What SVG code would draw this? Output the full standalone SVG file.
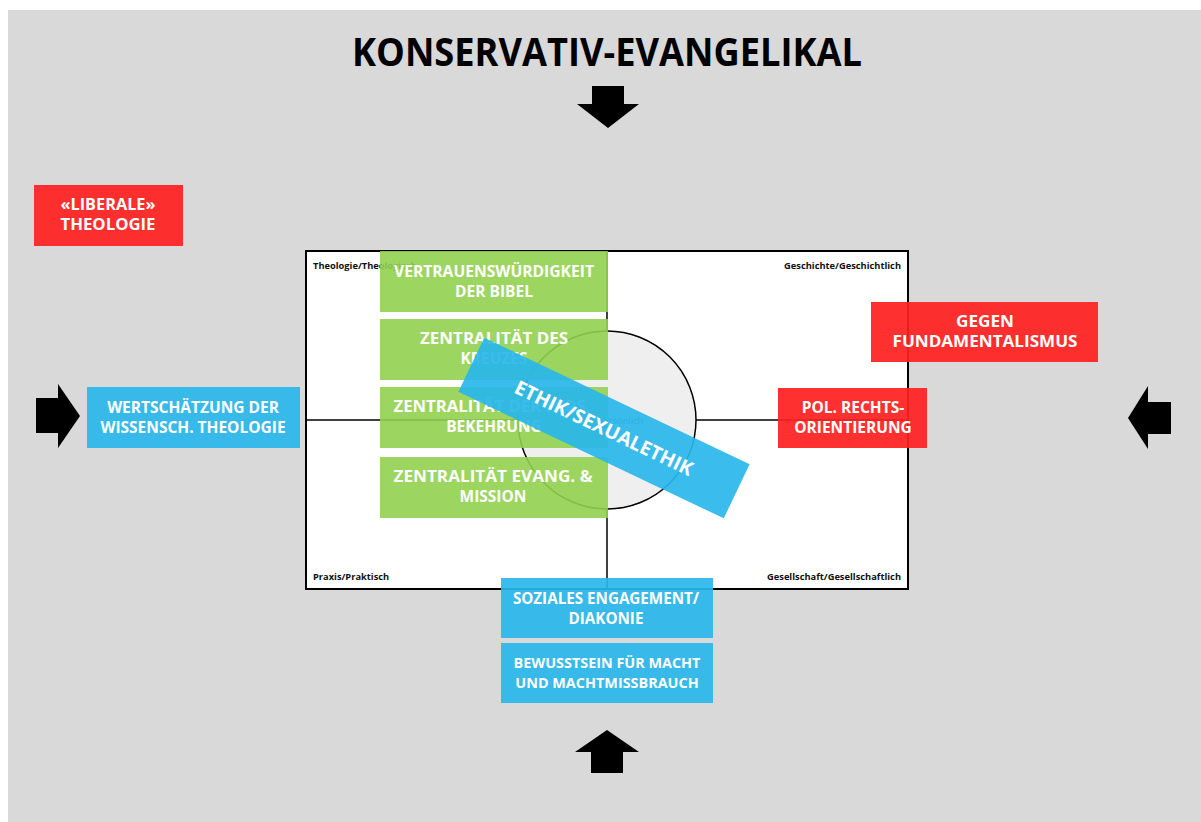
<svg xmlns="http://www.w3.org/2000/svg" width="1201" height="822" viewBox="0 0 1201 822">
  <style>
    .lbl { font-family: "Open Sans", "Liberation Sans", sans-serif; font-weight: 700; font-size: 15.5px; fill: #ffffff; text-anchor: middle; }
    .q { font-family: "Open Sans", "Liberation Sans", sans-serif; font-weight: 700; font-size: 9.3px; fill: #111111; }
    .green { fill: #92d050; opacity: 0.9; }
    .blue { fill: #29b6ea; opacity: 0.92; }
    .red { fill: #ff2020; opacity: 0.93; }
    .arrow { fill: #000000; }
  </style>
  <rect x="0" y="0" width="1201" height="822" fill="#ffffff"/>
  <rect x="8" y="10" width="1193" height="812" fill="#d9d9d9"/>

  <text x="607" y="66" font-family="Open Sans, Liberation Sans, sans-serif" font-weight="700" font-size="40" text-anchor="middle" fill="#000" textLength="510" lengthAdjust="spacingAndGlyphs">KONSERVATIV-EVANGELIKAL</text>

  <!-- Quadrant frame -->
  <g id="frame">
    <rect x="306" y="251" width="602" height="338" fill="#ffffff" stroke="#000" stroke-width="2"/>
    <line x1="607" y1="251" x2="607" y2="589" stroke="#000" stroke-width="1.5"/>
    <line x1="306" y1="420" x2="908" y2="420" stroke="#000" stroke-width="1.5"/>
    <circle cx="607" cy="420" r="89" fill="#efefef" stroke="#000" stroke-width="1.5"/>
    <text class="q" x="313" y="269">Theologie/Theologisch</text>
    <text class="q" x="901" y="269" text-anchor="end">Geschichte/Geschichtlich</text>
    <text class="q" x="313" y="580">Praxis/Praktisch</text>
    <text class="q" x="901" y="580" text-anchor="end">Gesellschaft/Gesellschaftlich</text>
    <text class="q" x="598" y="424" style="font-weight:400;fill:#555">Persönlich</text>
  </g>

  <!-- Core convictions -->
  <g id="vertrauen">
    <rect class="green" x="380" y="251" width="228" height="61"/>
    <text class="lbl" x="494" y="277" textLength="200" lengthAdjust="spacingAndGlyphs">VERTRAUENSWÜRDIGKEIT</text>
    <text class="lbl" x="494" y="297">DER BIBEL</text>
  </g>
  <g id="kreuz">
    <rect class="green" x="380" y="319" width="228" height="61"/>
    <text class="lbl" x="494" y="344" textLength="148" lengthAdjust="spacingAndGlyphs">ZENTRALITÄT DES</text>
    <text class="lbl" x="494" y="364">KREUZES</text>
  </g>
  <g id="bekehrung">
    <rect class="green" x="380" y="387" width="228" height="61"/>
    <text class="lbl" x="492" y="412" textLength="197" lengthAdjust="spacingAndGlyphs">ZENTRALITÄT DER PERS.</text>
    <text class="lbl" x="494" y="432">BEKEHRUNG</text>
  </g>
  <g id="mission">
    <rect class="green" x="380" y="457" width="228" height="61"/>
    <text class="lbl" x="493" y="482" textLength="199" lengthAdjust="spacingAndGlyphs">ZENTRALITÄT EVANG. &amp;</text>
    <text class="lbl" x="493" y="502">MISSION</text>
  </g>

  <g id="ethik" transform="translate(604 428) rotate(25.5)">
    <rect class="blue" x="-147" y="-30" width="294" height="60"/>
    <text class="lbl" x="0" y="7" font-size="19.5" style="font-size:19.5px">ETHIK/SEXUALETHIK</text>
  </g>

  <g id="liberal">
    <rect class="red" x="34" y="185" width="149" height="61"/>
    <text class="lbl" x="108" y="210" textLength="95" lengthAdjust="spacingAndGlyphs">«LIBERALE»</text>
    <text class="lbl" x="108" y="230" textLength="95" lengthAdjust="spacingAndGlyphs">THEOLOGIE</text>
  </g>
  <g id="fundamentalismus">
    <rect class="red" x="871" y="302" width="227" height="60"/>
    <text class="lbl" x="985" y="327" textLength="58" lengthAdjust="spacingAndGlyphs">GEGEN</text>
    <text class="lbl" x="985" y="347" textLength="185" lengthAdjust="spacingAndGlyphs">FUNDAMENTALISMUS</text>
  </g>
  <g id="rechts">
    <rect class="red" x="778" y="388" width="149" height="60"/>
    <text class="lbl" x="853" y="413">POL. RECHTS-</text>
    <text class="lbl" x="853" y="433">ORIENTIERUNG</text>
  </g>
  <g id="wissenschaft">
    <rect class="blue" x="87" y="387" width="213" height="61"/>
    <text class="lbl" x="193" y="413">WERTSCHÄTZUNG DER</text>
    <text class="lbl" x="193" y="433">WISSENSCH. THEOLOGIE</text>
  </g>
  <g id="diakonie">
    <rect class="blue" x="501" y="578" width="212" height="60"/>
    <text class="lbl" x="606" y="604" style="font-size:15.2px">SOZIALES ENGAGEMENT/</text>
    <text class="lbl" x="606" y="624" style="font-size:15.2px">DIAKONIE</text>
  </g>
  <g id="macht">
    <rect class="blue" x="501" y="643" width="212" height="60"/>
    <text class="lbl" x="607" y="668" style="font-size:14.4px">BEWUSSTSEIN FÜR MACHT</text>
    <text class="lbl" x="607" y="688" style="font-size:14.4px">UND MACHTMISSBRAUCH</text>
  </g>

  <!-- Pressure arrows from four directions -->
  <g id="connectors">
    <polygon class="arrow" points="592,86 624,86 624,104 639,104 608,128 577,104 592,104"/>
    <polygon class="arrow" points="591,773 623,773 623,752 639,752 607,730 575,752 591,752"/>
    <polygon class="arrow" points="36,398 58,398 58,384 80,416 58,448 58,433 36,433"/>
    <polygon class="arrow" points="1171,402 1148,402 1148,386 1128,418 1148,449 1148,434 1171,434"/>
  </g>
</svg>
